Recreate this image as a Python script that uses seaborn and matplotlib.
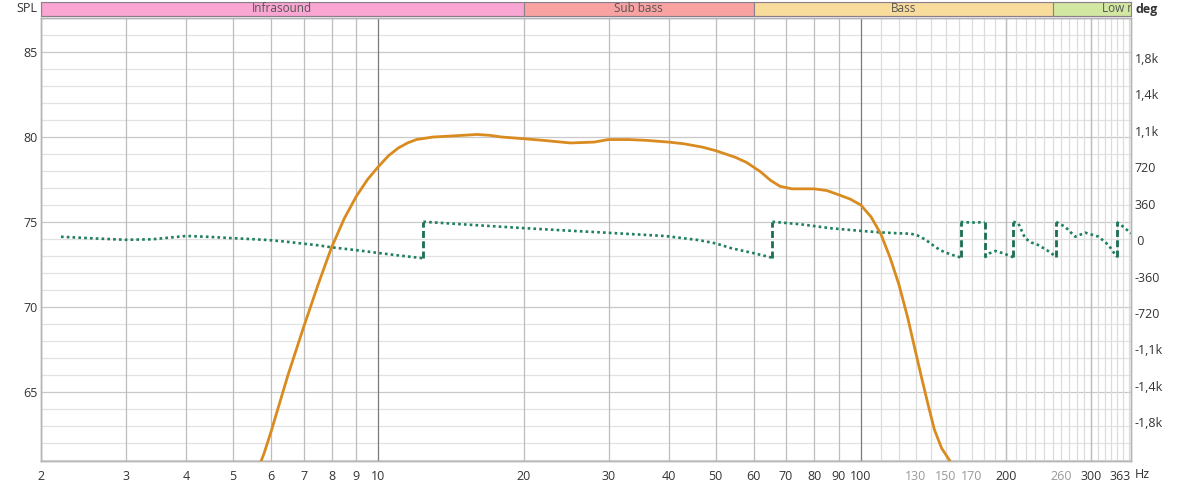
import matplotlib
matplotlib.use("Agg")
import matplotlib.pyplot as plt
import numpy as np
import pandas as pd
import seaborn as sns
from matplotlib.ticker import FixedLocator, FixedFormatter, NullFormatter

# --- data ---
spl_freq = [5.5, 5.8, 6.0, 6.5, 7.0, 7.5, 8.0, 8.5, 9.0, 9.5, 10.0, 10.5, 11.0, 11.5, 12.0, 13.0,
            14.0, 15.0, 16.0, 17.0, 18.0, 20.0, 22.0, 25.0, 28.0, 30.0, 33.0, 36.0, 40.0, 43.0,
            47.0, 50.0, 55.0, 58.0, 62.0, 65.0, 68.0, 72.0, 76.0, 80.0, 85.0, 90.0, 95.0, 100.0,
            105.0, 110.0, 115.0, 120.0, 125.0, 130.0, 134.0, 138.0, 142.0, 147.0, 153.0, 158.0]
spl_db = [59.7, 61.4, 62.7, 66.0, 68.8, 71.3, 73.5, 75.2, 76.5, 77.5, 78.25, 78.9, 79.35, 79.65,
          79.85, 80.0, 80.05, 80.1, 80.15, 80.1, 80.0, 79.9, 79.8, 79.65, 79.7, 79.85, 79.85, 79.8,
          79.7, 79.6, 79.4, 79.2, 78.8, 78.5, 77.95, 77.45, 77.1, 76.95, 76.95, 76.95, 76.85, 76.6,
          76.35, 76.0, 75.3, 74.3, 72.9, 71.3, 69.4, 67.3, 65.7, 64.2, 62.8, 61.7, 60.94, 60.2]

# wrapped phase; a repeated frequency marks a wrap jump
phase_freq = [2.2, 2.6, 3.0, 3.4, 4.0, 4.5, 4.9, 5.4, 5.9, 6.4, 6.9, 7.5, 8.0, 9.0, 9.9, 11.0, 12.4,
              12.4, 15.5, 19.9, 24.0, 28.7, 33.0, 39.4, 46.0, 50.0, 54.0, 60.0, 65.6,
              65.6, 75.0, 87.0, 100.0, 110.0, 120.0, 127.0, 131.0, 136.0, 141.0, 146.0, 153.0, 161.0,
              161.0, 170.0, 180.5,
              180.5, 185.0, 190.0, 197.0, 207.0,
              207.0, 212.0, 219.0, 226.0, 233.0, 243.0, 254.0,
              254.0, 265.0, 278.0, 292.0, 311.0, 326.0, 339.0,
              339.0, 350.0, 363.0]
phase_deg = [32, 15, 2, 7, 40, 30, 20, 10, 0, -15, -33, -52, -72, -100, -125, -152, -180,
             180, 150, 118, 96, 76, 60, 39, 0, -33, -82, -130, -175,
             180, 155, 115, 90, 75, 66, 62, 45, 5, -50, -100, -140, -172,
             178, 172, 176,
             -172, -130, -108, -130, -170,
             180, 165, 17, -26, -49, -100, -165,
             178, 131, 33, 72, 33, -49, -165,
             178, 130, 66]

x_ticks = [2, 3, 4, 5, 6, 7, 8, 9, 10, 20, 30, 40, 50, 60, 70, 80, 90, 100, 130, 150, 170, 200, 260, 300, 363]
x_labels = [str(v) for v in x_ticks]
faint_labels = ["130", "150", "170", "260"]
spl_ticks = [65, 70, 75, 80, 85]
deg_ticks = [-1800, -1440, -1080, -720, -360, 0, 360, 720, 1080, 1440, 1800]
deg_labels = ["-1,8k", "-1,4k", "-1,1k", "-720", "-360", " 0", "360", "720", "1,1k", "1,4k", "1,8k"]

bands = ["Infrasound", "Sub bass", "Bass", "Low mid"]
band_lo = [2, 20, 60, 250]
band_hi = [20, 60, 250, 500]
band_colors = ["#f9a6d2", "#f8a3a2", "#f8dc9c", "#d2e8a2"]

spl_lim = (60.94, 87.0)
deg_lim = (-2180, 2190)
f_lim = (2, 363)

sns.set_theme(style="white")
plt.rcParams["font.family"] = ["Open Sans", "DejaVu Sans"]

fig = plt.figure(figsize=(11.85, 4.87), dpi=100)
ax = fig.add_axes([41 / 1185, 1 - 461 / 487, 1090 / 1185, 443 / 487])
ax.set_xscale("log")
ax2 = ax.twinx()

# phase axes sits underneath and carries the background + grid
ax.set_zorder(ax2.get_zorder() + 1)
ax.patch.set_visible(False)
ax2.patch.set_visible(True)
ax2.patch.set_facecolor("white")


def spl_to_deg(v):
    return (v - spl_lim[0]) / (spl_lim[1] - spl_lim[0]) * (deg_lim[1] - deg_lim[0]) + deg_lim[0]


# grid
for db in range(61, 88):
    c = "#c9c9c9" if db % 5 == 0 else "#e2e2e2"
    ax2.axhline(spl_to_deg(db), color=c, lw=0.9, zorder=0)

grid_freqs = [m * 10 ** e for e in range(0, 3) for m in range(1, 10)] + list(range(110, 370, 10))
for f in grid_freqs:
    if f < 2 or f > 363:
        continue
    if f in (10, 100):
        c = "#7a7a7a"
    elif f < 100 or f in (200, 300):
        c = "#bdbdbd"
    else:
        c = "#dcdcdc"
    ax2.axvline(f, color=c, lw=0.9, zorder=0)

# phase trace
green = "#1f7f5f"
start = 0
for i in range(1, len(phase_freq) + 1):
    if i == len(phase_freq) or phase_freq[i] == phase_freq[i - 1]:
        ax2.plot(phase_freq[start:i], phase_deg[start:i], color=green, lw=1.9,
                 linestyle=(0, (1, 1.2)), zorder=3)
        if i < len(phase_freq):
            ax2.plot([phase_freq[i - 1], phase_freq[i]], [phase_deg[i - 1], phase_deg[i]],
                     color="#1b6e52", lw=2, linestyle=(0, (2.5, 1.2)), zorder=3)
        start = i

# SPL trace
spl_df = pd.DataFrame({"freq": spl_freq, "spl": spl_db})
sns.lineplot(data=spl_df, x="freq", y="spl", ax=ax, color="#d98b1f", lw=2, sort=False,
             estimator=None, zorder=4)

ax.set_xlim(*f_lim)
ax.set_ylim(*spl_lim)
ax2.set_ylim(*deg_lim)
ax.set_xlabel("")
ax.set_ylabel("")

ax.xaxis.set_major_locator(FixedLocator(x_ticks))
ax.xaxis.set_major_formatter(FixedFormatter(x_labels))
ax.xaxis.set_minor_formatter(NullFormatter())
ax.tick_params(axis="x", which="both", length=0, pad=6.5, labelsize=9, colors="#333333")
for lab in ax.get_xticklabels():
    if lab.get_text() in faint_labels:
        lab.set_color("#999999")
    if lab.get_text() == "363":
        lab.set_ha("right")

ax.set_yticks(spl_ticks)
ax.tick_params(axis="y", length=0, pad=2.5, labelsize=9, colors="#333333")

ax2.yaxis.set_major_locator(FixedLocator(deg_ticks))
ax2.yaxis.set_major_formatter(FixedFormatter(deg_labels))
ax2.yaxis.set_minor_locator(FixedLocator([0]))
ax2.tick_params(axis="y", which="major", length=0, pad=2.5, labelsize=9, colors="#333333")
ax2.tick_params(axis="y", which="minor", length=4, width=0.8, color="#666666", direction="out")
ax2.grid(False)
ax.grid(False)

for a in (ax, ax2):
    for s in a.spines.values():
        s.set_color("#b5b5b5")
        s.set_linewidth(1.0)

fig.text(1135 / 1185, 1 - 475 / 487, "Hz", fontsize=9, color="#333333", va="center", ha="left")
fig.text(37 / 1185, 1 - 9 / 487, "SPL", fontsize=9, color="#333333", va="center", ha="right")
fig.text(1135 / 1185, 1 - 9 / 487, "deg", fontsize=9, color="#333333", va="center", ha="left",
         fontweight="bold")

# frequency band header
bax = fig.add_axes([41 / 1185, 1 - 16 / 487, 1090 / 1185, 14 / 487])
bax.set_xscale("log")
bax.set_xlim(*f_lim)
bax.set_ylim(0, 1)
for name, lo, hi, col in zip(bands, band_lo, band_hi, band_colors):
    bax.axvspan(lo, hi, color=col, ec="#8c7f8c", lw=0.8)
    bax.text(np.sqrt(lo * hi), 0.5, name, ha="center", va="center", fontsize=8.5,
             color="#555555", clip_on=True)
bax.set_xticks([])
bax.set_yticks([])
bax.minorticks_off()
for s in bax.spines.values():
    s.set_color("#8c7f8c")
    s.set_linewidth(0.8)

fig.savefig("out.png", dpi=100)
